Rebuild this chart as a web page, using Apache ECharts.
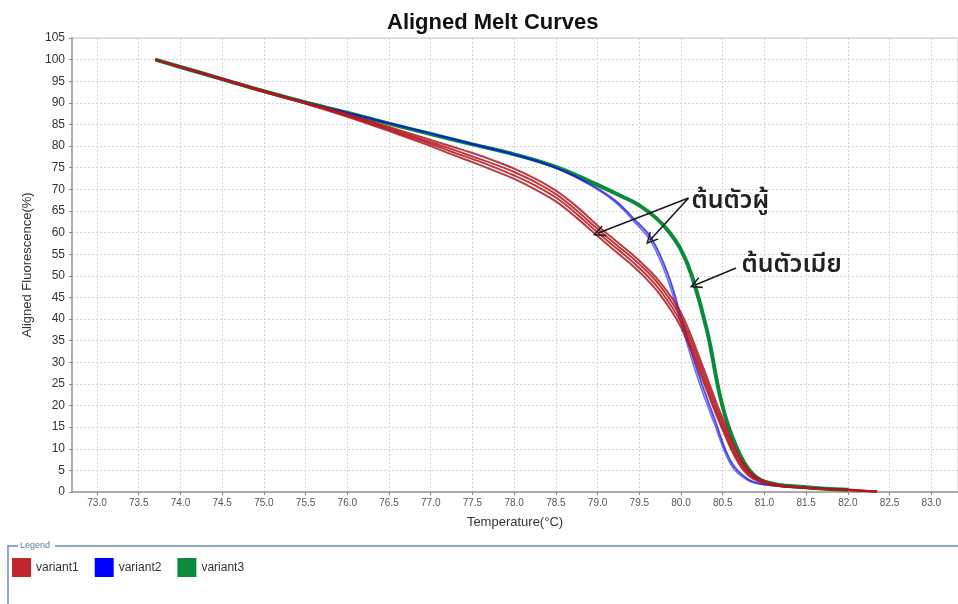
<!DOCTYPE html>
<html>
<head>
<meta charset="utf-8">
<script src="https://cdn.jsdelivr.net/npm/echarts@6/dist/echarts.min.js"></script>
<style>
html,body{margin:0;padding:0;background:#fff;}
#c{width:958px;height:604px;}
</style>
</head>
<body>
<div id="c"></div>
<script>
// ---- data ----
const xTicks = [73.0,73.5,74.0,74.5,75.0,75.5,76.0,76.5,77.0,77.5,78.0,78.5,79.0,79.5,80.0,80.5,81.0,81.5,82.0,82.5,83.0];

const redT = [73.7,74.0,74.5,75.0,75.5,76.0,76.5,77.0,77.25,77.5,77.75,78.0,78.25,78.5,78.75,79.0,79.25,79.5,79.75,80.0,80.25,80.5,80.75,81.0,81.5,82.0,82.35];
const redA = [100,98.3,95.6,92.8,90.1,87.4,84.4,81.4,79.9,78.4,76.7,74.8,72.5,69.7,66.0,61.6,57.6,53.5,48.5,41.4,29.6,17.0,6.6,2.5,1.0,0.5,0.1];
const redB = [100,98.3,95.5,92.7,90.0,87.2,84.1,80.9,79.3,77.6,75.9,74.0,71.7,68.9,65.1,60.8,56.8,52.7,47.6,40.3,28.5,16.0,6.0,2.3,1.0,0.5,0.1];
const redC = [100,98.3,95.5,92.6,89.9,87.0,83.8,80.5,78.7,77.0,75.2,73.2,70.9,68.1,64.3,60.0,56.0,51.8,46.6,39.2,27.4,15.1,5.5,2.1,0.9,0.5,0.1];
const redD = [100,98.2,95.4,92.5,89.8,86.8,83.5,80.0,78.1,76.3,74.4,72.4,70.0,67.2,63.4,59.2,55.1,50.9,45.6,38.1,26.4,14.3,5.0,2.0,0.9,0.4,0.1];

const blueT = [73.7,74.0,74.5,75.0,75.5,76.0,76.5,77.0,77.5,78.0,78.5,78.9,79.2,79.45,79.65,79.85,80.0,80.2,80.4,80.6,80.8,81.0,81.5,82.1];
const blueA = [100,98.3,95.5,92.7,90.1,87.7,85.3,82.9,80.5,78.1,75.0,71.3,67.6,62.9,58.5,50.0,40.5,27.8,17.0,7.0,3.0,1.8,1.0,0.5];
const blueB = [100,98.3,95.5,92.7,90.1,87.7,85.3,82.9,80.4,78.0,74.9,71.1,67.2,62.3,57.6,48.6,39.0,26.3,15.8,6.3,2.7,1.7,1.0,0.5];

const greenT = [73.7,74.0,74.5,75.0,75.5,76.0,76.5,77.0,77.5,78.0,78.5,78.9,79.3,79.5,79.7,79.85,80.0,80.13,80.31,80.47,80.6,80.8,81.0,81.5,82.0];
const greenA = [100,98.3,95.5,92.7,90.1,87.7,85.2,82.8,80.4,78.1,75.2,71.9,68.3,66.3,63.4,60.3,56.0,50.0,37.5,22.0,13.5,5.5,2.4,1.1,0.5];

const seriesNames = ['variant1','variant2','variant3'];
const seriesColors = ['#b0161d','#1212dc','#0b8a3a'];
const legendColors = ['#c0272d','#0000ff','#0a8c3c'];

// annotations (data coordinates)
const maleLabel = 'ต้นตัวผู้';
const femaleLabel = 'ต้นตัวเมีย';
const maleLabelPos = [80.12, 66.8];
const femaleLabelPos = [80.72, 52.0];
const maleArrowTail = [80.09, 68.0];
const maleArrowHeads = [[79.01, 59.9],[79.63, 58.3]];
const femaleArrowTail = [80.66, 51.8];
const femaleArrowHead = [80.17, 47.9];

function pairs(t, v){ return t.map((x,i)=>[x, v[i]]); }

const chart = echarts.init(document.getElementById('c'), null, {renderer:'canvas'});

function line(name, t, v, color, width, opacity, z){
  return {
    name: name, type:'line', data: pairs(t, v), smooth: 0.4, showSymbol:false, symbol:'none',
    lineStyle:{color: color, width: width, opacity: opacity}, itemStyle:{color: color},
    z: z, silent:true, animation:false
  };
}

const thaiFont = "'Noto Sans Thai','Noto Sans Thai UI','Leelawadee UI','Tahoma','Noto Sans','DejaVu Sans',sans-serif";
const chevron = 'path://M5,0 L10,10 L8.6,10 L5,2.8 L1.4,10 L0,10 Z';

const series = [
  line(seriesNames[2], greenT, greenA, seriesColors[2], 4, 1, 2),
  line(seriesNames[1], blueT, blueA, seriesColors[1], 1.9, 0.75, 3),
  line(seriesNames[1], blueT, blueB, seriesColors[1], 1.6, 0.6, 3),
  line(seriesNames[0], redT, redA, seriesColors[0], 2, 0.85, 4),
  line(seriesNames[0], redT, redB, seriesColors[0], 2, 0.85, 4),
  line(seriesNames[0], redT, redC, seriesColors[0], 2, 0.85, 4),
  line(seriesNames[0], redT, redD, seriesColors[0], 2, 0.85, 4),
  {
    name:'annot', type:'line', data:[], z:10, silent:true, animation:false,
    markLine:{
      silent:true, animation:false, symbol:['none', chevron], symbolSize:[12,12],
      lineStyle:{color:'#1a1a1a', width:1.6, type:'solid'}, label:{show:false},
      data:[
        [{coord: maleArrowTail},{coord: maleArrowHeads[0]}],
        [{coord: maleArrowTail},{coord: maleArrowHeads[1]}],
        [{coord: femaleArrowTail},{coord: femaleArrowHead}]
      ]
    },
    markPoint:{
      silent:true, animation:false, symbol:'circle', symbolSize:1, itemStyle:{color:'rgba(0,0,0,0)'},
      label:{show:true, position:'right', distance:0, color:'#222', fontSize:25, fontFamily: thaiFont, fontWeight:600},
      data:[
        {coord: maleLabelPos, label:{formatter: maleLabel}},
        {coord: femaleLabelPos, label:{formatter: femaleLabel}}
      ]
    }
  }
];

const option = {
  backgroundColor:'#ffffff',
  animation:false,
  title:{
    text:'Aligned Melt Curves', left:382, top:7,
    textStyle:{fontFamily:'Liberation Sans, Arial, sans-serif', fontSize:22, fontWeight:'bold', color:'#111'}
  },
  grid:{left:72, top:38, right:0, bottom:112, show:true, borderColor:'#c4c4c4', borderWidth:1, containLabel:false},
  legend:{
    left:7, top:553, orient:'horizontal', icon:'rect', itemWidth:19, itemHeight:19, itemGap:16,
    textStyle:{fontFamily:'Liberation Sans, Arial, sans-serif', fontSize:12, color:'#333'},
    selectedMode:false,
    data: seriesNames.map((n,i)=>({name:n, itemStyle:{color:legendColors[i], opacity:1}}))
  },
  xAxis:{
    type:'value', min:72.7, max:83.32,
    name:'Temperature(°C)', nameLocation:'middle', nameGap:24,
    nameTextStyle:{fontFamily:'Liberation Sans, Arial, sans-serif', fontSize:13, color:'#333'},
    axisLine:{show:true, onZero:false, lineStyle:{color:'#9a9a9a', width:1.5}},
    axisTick:{show:true, length:3, lineStyle:{color:'#888'}, customValues: xTicks},
    axisLabel:{customValues: xTicks, formatter:(v)=>v.toFixed(1), fontFamily:"'Liberation Sans Narrow','Liberation Sans',Arial,sans-serif", fontSize:10, color:'#555', margin:6},
    splitLine:{show:true, lineStyle:{color:'#d4d4d4', type:[2,2], width:1}}
  },
  yAxis:{
    type:'value', min:0, max:105, interval:5,
    name:'Aligned Fluorescence(%)', nameLocation:'middle', nameGap:34,
    nameTextStyle:{fontFamily:'Liberation Sans, Arial, sans-serif', fontSize:13, color:'#333'},
    axisLine:{show:true, lineStyle:{color:'#9a9a9a', width:1.5}},
    axisTick:{show:true, length:3, lineStyle:{color:'#888'}},
    axisLabel:{fontFamily:'Liberation Sans, Arial, sans-serif', fontSize:12, color:'#333', margin:7},
    splitLine:{show:true, lineStyle:{color:'#d4d4d4', type:[2,2], width:1}}
  },
  graphic:[
    {type:'polyline', shape:{points:[[8,604],[8,546],[18,546]]}, style:{stroke:'#6f8db0', lineWidth:1.5, fill:null}, silent:true},
    {type:'line', shape:{x1:55, y1:546, x2:958, y2:546}, style:{stroke:'#6f8db0', lineWidth:1.5}, silent:true},
    {type:'text', left:20, top:541, style:{text:'Legend', fontSize:9, fill:'#5a7aa0', fontFamily:'Liberation Sans, Arial, sans-serif'}, silent:true}
  ],
  series: series
};
chart.setOption(option);
</script>
</body>
</html>
